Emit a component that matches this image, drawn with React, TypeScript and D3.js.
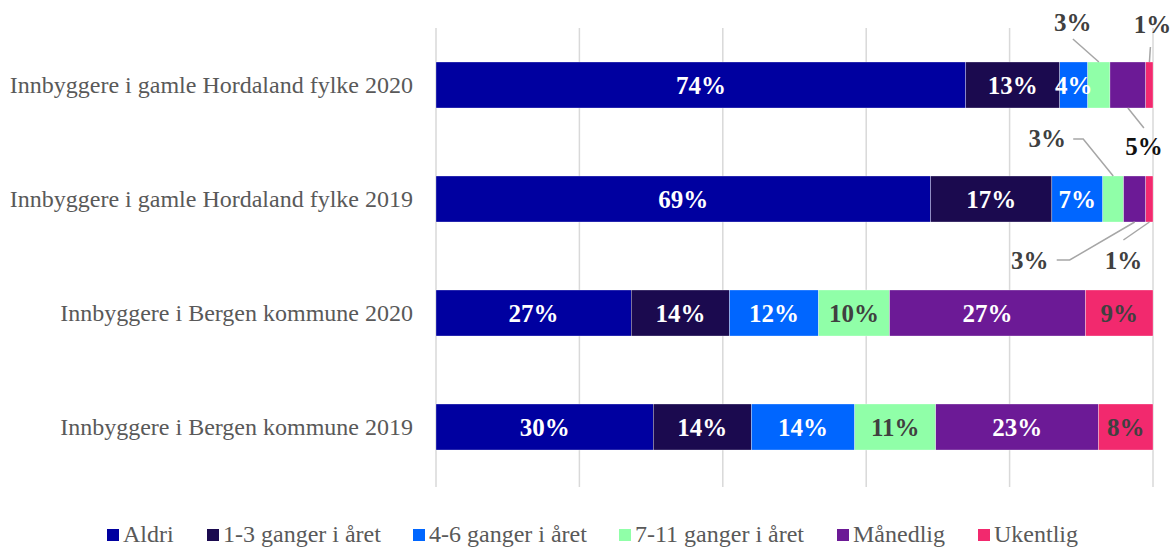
import React from "react";
import * as d3 from "d3";

const categories = [
  "Innbyggere i gamle Hordaland fylke 2020",
  "Innbyggere i gamle Hordaland fylke 2019",
  "Innbyggere i Bergen kommune 2020",
  "Innbyggere i Bergen kommune 2019",
];
const seriesNames = ["Aldri", "1-3 ganger i året", "4-6 ganger i året", "7-11 ganger i året", "Månedlig", "Ukentlig"];
const aldri = [73.9, 69.0, 27.2, 30.3];
const g13 = [13.1, 16.9, 13.7, 13.7];
const g46 = [3.9, 7.1, 12.4, 14.4];
const g711 = [3.1, 2.9, 9.9, 11.3];
const maanedlig = [5.0, 3.1, 27.3, 22.7];
const ukentlig = [1.0, 1.0, 9.4, 7.6];
const xTicks = [0, 20, 40, 60, 80, 100];

const colors = ["#0000A0", "#1B0A4F", "#0066FF", "#90FFA8", "#6C1A96", "#F2296E"];
const labelColors = ["#fff", "#fff", "#fff", "#404040", "#fff", "#404040"];

type Callout = { c: number; s: number; side: "top" | "bottom"; tx: number; ty: number; pts: [number, number][]; color: string };
const callouts: Callout[] = [
  { c: 0, s: 3, side: "top", tx: -26, ty: -31, pts: [[0, 0], [-26, -23]], color: "#404040" },
  { c: 0, s: 5, side: "top", tx: 3, ty: -29, pts: [[0, 0], [1, -15]], color: "#404040" },
  { c: 0, s: 4, side: "bottom", tx: 16, ty: 47, pts: [[0, 0], [16, 20]], color: "#111111" },
  { c: 1, s: 3, side: "top", tx: -66, ty: -29, pts: [[0, 0], [-30, -37], [-40, -37]], color: "#404040" },
  { c: 1, s: 4, side: "bottom", tx: -105, ty: 47, pts: [[0, 0], [-65, 38], [-78, 38]], color: "#404040" },
  { c: 1, s: 5, side: "bottom", tx: -26, ty: 47, pts: [[0, 0], [-26, 18]], color: "#404040" },
];

export default function App() {
  const W = 1176, H = 548;
  const series = [aldri, g13, g46, g711, maanedlig, ukentlig];
  const x = d3.scaleLinear().domain([0, 100]).range([436, 1153]);
  const p = 0.5965;
  const y = d3.scaleBand<string>().domain(categories).range([28, 484]).paddingInner(p).paddingOuter(p / 2);
  const bw = y.bandwidth();
  const font = "'Liberation Serif', 'Times New Roman', serif";
  const fs = 24;
  const lfs = 25;

  const rows = categories.map((cat, ci) => {
    const vals = series.map((s) => s[ci]);
    const total = d3.sum(vals);
    let acc = 0;
    return vals.map((v, si) => {
      const x0 = acc;
      acc += (v / total) * 100;
      return { cat, ci, si, v, x0, x1: acc };
    });
  });
  const isCallout = (ci: number, si: number) => callouts.some((c) => c.c === ci && c.s === si);

  const legendX = [107, 207, 413, 619, 837, 978];

  return (
    <svg width={W} height={H} style={{ position: "absolute", left: 0, top: 0, background: "#fff" }} fontFamily={font}>
      {xTicks.map((t) => (
        <line key={t} x1={x(t)} x2={x(t)} y1={28} y2={487} stroke="#D9D9D9" strokeWidth={1.5} />
      ))}
      {rows.map((segs) =>
        segs.map((d) => (
          <rect key={d.ci + "-" + d.si} x={x(d.x0)} y={y(d.cat)!} width={x(d.x1) - x(d.x0)} height={bw} fill={colors[d.si]} stroke="#fff" strokeWidth={0.3} />
        ))
      )}
      {rows.map((segs) =>
        segs
          .filter((d) => !isCallout(d.ci, d.si))
          .map((d) => (
            <text key={"l" + d.ci + "-" + d.si} x={(x(d.x0) + x(d.x1)) / 2} y={y(d.cat)! + bw / 2 + 8.5} textAnchor="middle" fontSize={lfs} fontWeight="bold" fill={labelColors[d.si]}>
              {Math.round(d.v) + "%"}
            </text>
          ))
      )}
      {callouts.map((c, i) => {
        const d = rows[c.c][c.s];
        const ax = (x(d.x0) + x(d.x1)) / 2;
        const ay = c.side === "top" ? y(d.cat)! : y(d.cat)! + bw;
        const path = d3.line()(c.pts.map(([dx, dy]) => [ax + dx, ay + dy]));
        return (
          <g key={"c" + i}>
            <path d={path!} fill="none" stroke="#A6A6A6" strokeWidth={1.5} />
            <text x={ax + c.tx} y={ay + c.ty} textAnchor="middle" fontSize={lfs} fontWeight="bold" fill={c.color}>
              {Math.round(d.v) + "%"}
            </text>
          </g>
        );
      })}
      {categories.map((cat) => (
        <text key={cat} x={413} y={y(cat)! + bw / 2 + 8} textAnchor="end" fontSize={fs} fill="#595959">
          {cat}
        </text>
      ))}
      {seriesNames.map((n, i) => (
        <g key={n}>
          <rect x={legendX[i]} y={529} width={12} height={12} fill={colors[i]} />
          <text x={legendX[i] + 16} y={542} fontSize={fs} fill="#595959">
            {n}
          </text>
        </g>
      ))}
    </svg>
  );
}
